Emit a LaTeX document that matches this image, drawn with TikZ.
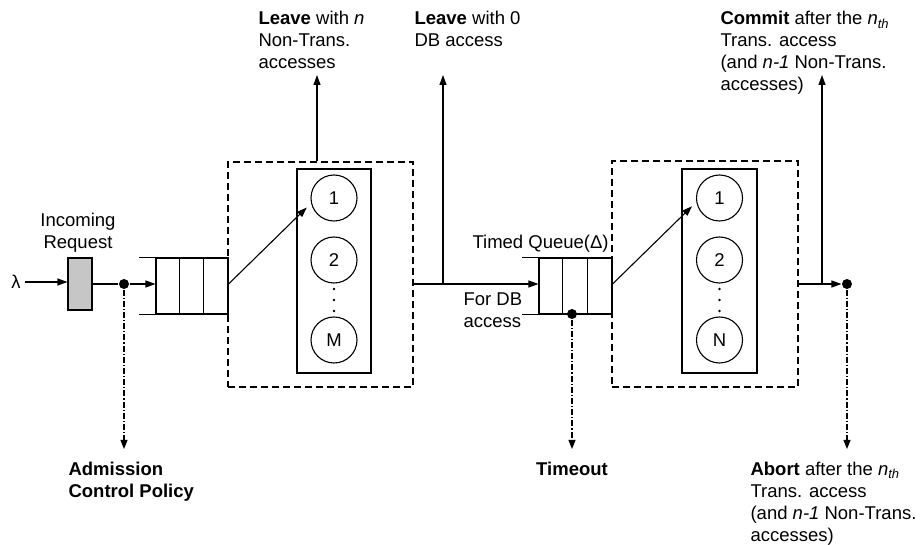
\documentclass[tikz,border=0pt]{standalone}
\usepackage{fontspec}
\setmainfont{Liberation Sans}
\usetikzlibrary{arrows.meta,calc}
\newcommand{\nthsub}{\textit{n}\textsubscript{\textit{th}}}
\begin{document}
\begin{tikzpicture}[x=1pt,y=-1pt,line width=1.1pt,
  txt/.style={font=\fontsize{18.5}{22}\selectfont, inner sep=0pt, align=left, anchor=base west},
  arr/.style={-{Triangle[length=10pt,width=7pt]}},
  dd/.style={dash pattern=on 6pt off 2pt on 1.2pt off 2pt, -{Triangle[length=9pt,width=7pt]}},
  dbox/.style={draw, dash pattern=on 7pt off 4pt, inner sep=0pt},
  sbox/.style={draw, inner sep=0pt},
  srv/.style={draw, circle, minimum size=46pt, inner sep=0pt, font=\fontsize{18.5}{22}\selectfont},
  dot/.style={circle, fill, inner sep=0pt, minimum size=10pt},
  minidot/.style={circle, fill, inner sep=0pt, minimum size=2.6pt}]
\useasboundingbox (0,0) rectangle (922,545);

% source
\node[txt, anchor=center] (lam) at (16,282) {λ};
\node[sbox, fill=gray!45, minimum width=24pt, minimum height=52pt] (src) at (80,284) {};
\node[txt, align=center, anchor=base] (inc) at (78,248.6) {Incoming\\Request};
\node[dot] (d1) at (124,284) {};
\draw[arr, shorten <=4pt] (lam) -- (src.west |- lam);
\draw (src.east |- d1) -- (d1);

% queue 1
\node[sbox, minimum width=72pt, minimum height=56pt] (q1) at (192,286) {};

% server box 1
\node[dbox, minimum width=185pt, minimum height=225pt] (b1) at (320.5,274.5) {};
\node[sbox, minimum width=74pt, minimum height=204pt] (s1) at (334,271) {};
\node[srv] (c11) at (334,198) {1};
\node[srv] (c12) at (334,260) {2};
\node[srv] (c1m) at (334,340) {M};
\node[minidot] (e11) at (334,289) {};
\node[minidot] (e12) at (334,300) {};
\node[minidot] (e13) at (334,311) {};

\draw (q1.north east) -- (q1.south east);
\draw (q1.north west) -- ++(-16,0) (q1.south west) -- ++(-16,0);
\foreach \dx in {24,48} \draw ([xshift=\dx pt]q1.north west) -- ([xshift=\dx pt]q1.south west);
\draw[arr] (d1) -- (q1.west |- d1);
\draw[arr, shorten >=6pt] (q1.east |- d1) -- (c11.193);

% queue 2
\node[sbox, minimum width=73pt, minimum height=56pt] (q2) at (575.5,286) {};
\draw (q2.north west) -- ++(-16,0) (q2.south west) -- ++(-16,0);
\foreach \dx in {24,49} \draw ([xshift=\dx pt]q2.north west) -- ([xshift=\dx pt]q2.south west);
\node[dot] (d2) at (572,314) {};

% link 1 -> 2
\draw[arr] (b1.east |- d1) -- (q2.west |- d1);
\coordinate (l0) at (443,75);
\draw[arr] (l0 |- d1) -- (l0);
\coordinate (ln) at (317,75);
\draw[arr] (ln |- b1.north) -- (ln);

% server box 2
\node[dbox, minimum width=186pt, minimum height=226pt] (b2) at (705,274) {};
\node[sbox, minimum width=75pt, minimum height=204pt] (s2) at (719.5,271) {};
\node[srv] (c21) at (719.5,198) {1};
\node[srv] (c22) at (719.5,260) {2};
\node[srv] (c2n) at (719.5,340) {N};
\node[minidot] (e21) at (719.5,289) {};
\node[minidot] (e22) at (719.5,300) {};
\node[minidot] (e23) at (719.5,311) {};
\draw (q2.north east) -- (q2.south east);
\draw[arr, shorten >=6pt] (q2.east |- d1) -- (c21.190);

% output
\node[dot] (d3) at (847,284) {};
\draw[arr] (b2.east |- d3) -- (d3.west);
\coordinate (cm) at (822,75);
\draw[arr] (cm |- d3) -- (cm);

% dash-dot arrows
\coordinate (a1) at (124,449);
\coordinate (a2) at (572,449);
\coordinate (a3) at (847,449);
\draw[dd] (d1) -- (a1);
\draw[dd] (d2) -- (a2);
\draw[dd] (d3) -- (a3);

% texts (base anchor = baseline of the last line)
\node[txt] (tln) at (258,69) {\textbf{Leave} with \textit{n}\\Non-Trans.\\accesses};
\node[txt] (tl0) at (414,47) {\textbf{Leave} with 0\\DB access};
\node[txt] (tcm) at (720,91) {\textbf{Commit} after the \nthsub\\Trans. access\\(and \textit{n-1} Non-Trans.\\accesses)};
\node[txt] (ttq) at (472,248.6) {Timed Queue(Δ)};
\node[txt] (tdb) at (463,327.6) {For DB\\access};
\node[txt] (tad) at (68,497.5) {\textbf{Admission}\\\textbf{Control Policy}};
\node[txt, anchor=base] (tto) at (572,475.5) {\textbf{Timeout}};
\node[txt] (tab) at (750,541) {\textbf{Abort} after the \nthsub\\Trans. access\\(and \textit{n-1} Non-Trans.\\accesses)};
\end{tikzpicture}
\end{document}
